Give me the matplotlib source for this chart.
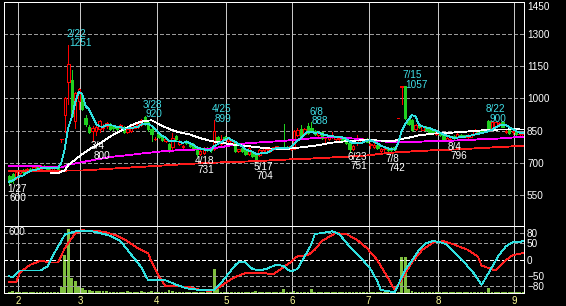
import numpy as np
import pandas as pd
import matplotlib
matplotlib.use('Agg')
import matplotlib.pyplot as plt
from matplotlib.patches import Rectangle

plt.rcParams['font.family'] = ['Liberation Sans', 'DejaVu Sans']
plt.rcParams['lines.scale_dashes'] = False

# Tokyo trading days, 2022-01-27 .. 2022-09-05
holidays = ['2022-02-11', '2022-02-23', '2022-03-21', '2022-04-29', '2022-05-03',
            '2022-05-04', '2022-05-05', '2022-07-18', '2022-08-11']
dates = pd.bdate_range('2022-01-27', '2022-09-05', freq='C', holidays=holidays)

# daily prices (yen)
opens = [640, 648, 630, 650, 668, 660, 672, 668, 678, 672, 684, 678, 664, 674, 682,
         812, 921, 1076, 1088, 895, 987, 1014, 907, 869, 848, 850, 856, 862, 870, 880,
         870, 868, 862, 868, 845, 848, 862, 866, 875, 915, 892, 858, 812, 835, 822,
         800, 786, 775, 826, 786, 775, 800, 790, 785, 768, 742, 745, 770, 765, 763,
         818, 788, 820, 800, 790, 790, 755, 770, 760, 740, 752, 735, 735, 750, 752,
         755, 762, 770, 772, 770, 772, 765, 765, 830, 856, 835, 872, 860, 850, 828,
         842, 815, 812, 820, 812, 810, 815, 808, 790, 765, 790, 808, 800, 812, 785,
         775, 782, 755, 765, 768, 770, 775, 907, 1055, 1057, 905, 900, 858, 875, 855,
         868, 862, 850, 832, 840, 828, 802, 805, 825, 820, 830, 828, 818, 822, 835,
         852, 848, 852, 895, 858, 865, 880, 890, 845, 858, 845, 848, 832, 822]
highs = [645, 652, 660, 668, 672, 675, 676, 682, 684, 688, 690, 682, 678, 684, 686,
         812, 1005, 1251, 1135, 1030, 1050, 1025, 921, 875, 870, 875, 900, 880, 890, 886,
         875, 872, 880, 870, 862, 870, 885, 892, 905, 920, 898, 866, 822, 842, 828,
         818, 790, 840, 830, 805, 785, 805, 795, 790, 772, 758, 772, 775, 770, 899,
         825, 830, 825, 815, 805, 795, 765, 775, 762, 775, 756, 740, 765, 762, 768,
         770, 775, 780, 775, 879, 778, 785, 852, 860, 875, 860, 885, 888, 855, 845,
         845, 818, 825, 845, 822, 820, 818, 812, 792, 785, 830, 812, 815, 815, 790,
         790, 785, 768, 768, 772, 775, 778, 907, 1057, 1057, 908, 905, 880, 878, 878,
         870, 865, 852, 845, 842, 830, 818, 815, 828, 838, 832, 830, 832, 832, 858,
         855, 852, 858, 900, 895, 892, 888, 895, 852, 862, 848, 850, 835, 835]
lows = [600, 606, 625, 645, 650, 655, 662, 665, 670, 670, 676, 662, 660, 670, 664,
        795, 843, 972, 912, 861, 949, 945, 871, 840, 800, 830, 845, 852, 862, 852,
        855, 850, 860, 840, 838, 845, 860, 862, 872, 875, 850, 800, 805, 815, 800,
        796, 752, 755, 805, 782, 770, 788, 775, 765, 731, 738, 742, 755, 748, 758,
        795, 785, 805, 795, 785, 752, 750, 752, 738, 735, 725, 704, 730, 745, 748,
        752, 758, 765, 765, 762, 765, 760, 762, 825, 820, 830, 835, 842, 828, 825,
        812, 788, 808, 815, 808, 805, 800, 786, 751, 760, 785, 795, 798, 795, 770,
        770, 765, 750, 755, 742, 755, 758, 907, 975, 905, 878, 850, 855, 860, 852,
        850, 840, 838, 828, 825, 808, 800, 796, 812, 818, 818, 818, 815, 818, 832,
        840, 838, 842, 850, 855, 862, 878, 865, 840, 835, 832, 830, 825, 820]
closes = [612, 622, 655, 660, 655, 670, 668, 678, 672, 684, 680, 668, 674, 680, 670,
          812, 1003, 1162, 916, 1026, 1045, 949, 879, 844, 864, 866, 895, 872, 885, 856,
          860, 858, 878, 845, 858, 865, 880, 889, 899, 880, 858, 835, 812, 820, 805,
          812, 756, 815, 810, 802, 780, 790, 778, 770, 742, 755, 768, 760, 758, 848,
          800, 812, 810, 812, 800, 756, 762, 755, 742, 770, 730, 712, 760, 758, 765,
          765, 772, 778, 768, 765, 768, 780, 848, 855, 825, 856, 838, 845, 832, 840,
          815, 818, 822, 830, 818, 816, 805, 790, 762, 780, 815, 810, 812, 798, 788,
          785, 768, 762, 765, 758, 760, 762, 907, 1057, 910, 880, 855, 878, 865, 872,
          852, 842, 840, 842, 828, 810, 815, 812, 815, 835, 822, 820, 828, 830, 855,
          842, 840, 845, 855, 892, 888, 885, 868, 850, 838, 848, 832, 835, 832]
# volume (thousand shares)
volumes = [14, 18, 12, 10, 8, 10, 8, 12, 8, 10, 8, 12, 10, 8, 10,
           59, 356, 600, 138, 112, 59, 50, 28, 28, 22, 22, 20, 18, 20, 12,
           14, 10, 14, 12, 16, 10, 8, 12, 18, 14, 10, 20, 8, 10, 8,
           12, 28, 18, 10, 10, 8, 8, 12, 10, 14, 10, 8, 8, 10, 225,
           40, 12, 10, 8, 8, 12, 10, 8, 10, 12, 10, 16, 12, 8, 8,
           10, 8, 8, 12, 40, 10, 8, 20, 14, 12, 10, 12, 35, 12, 8,
           10, 8, 8, 10, 8, 8, 10, 8, 14, 10, 10, 8, 8, 10, 8,
           8, 10, 8, 10, 12, 10, 10, 14, 340, 340, 35, 16, 12, 10, 10,
           8, 8, 10, 8, 8, 10, 8, 10, 8, 10, 8, 8, 10, 8, 12,
           8, 8, 10, 47, 14, 10, 8, 10, 8, 10, 8, 10, 8, 8]

# longer moving averages (day index, value)
ma25_day = [12, 14, 16, 17, 19, 21, 23, 25, 27, 29, 31, 33, 35, 37, 39, 41, 42, 44, 47,
            49, 52, 55, 58, 61, 64, 69, 74, 79, 84, 87, 89, 93, 98, 103, 108, 111, 112,
            115, 118, 122, 127, 132, 136, 141, 146, 148]
ma25_val = [652, 652, 665, 690, 715, 740, 762, 780, 800, 822, 840, 856, 874, 887, 895, 898,
            890, 872, 852, 842, 832, 815, 802, 794, 786, 777, 768, 763, 772, 778, 782, 794,
            802, 806, 803, 803, 808, 817, 828, 836, 840, 846, 851, 855, 856, 855]
ma75_day = [0, 9, 12, 15, 17, 20, 24, 29, 32, 35, 38, 41, 43, 46, 49, 52, 55, 58, 61, 64,
            69, 74, 79, 84, 87, 90, 95, 100, 105, 110, 113, 118, 122, 127, 132, 136, 141,
            145, 148]
ma75_val = [683, 683, 680, 678, 690, 700, 712, 727, 732, 737, 743, 748, 752, 755, 759, 760,
            763, 767, 773, 782, 792, 797, 802, 810, 814, 818, 818, 812, 803, 797, 796, 798,
            802, 803, 806, 810, 813, 818, 822]
ma200_day = [0, 12, 21, 25, 30, 35, 40, 46, 52, 58, 65, 72, 78, 85, 92, 98, 103, 107, 111,
             116, 123, 130, 136, 142, 148]
ma200_val = [662, 663, 664, 668, 673, 678, 683, 689, 695, 700, 704, 708, 714, 718, 724, 729,
             734, 742, 748, 753, 759, 763, 769, 774, 779]

# oscillators (lower panel)
rci_fast_day = [0, 1, 3, 9, 11, 13, 15, 16, 19, 24, 26, 29, 32, 34, 36, 38, 40, 45, 48, 51,
                55, 59, 61, 63, 65, 66, 68, 70, 72, 74, 77, 79, 80, 81, 83, 85, 87, 88, 90,
                93, 95, 98, 101, 104, 106, 107, 111, 112, 114, 116, 118, 120, 122, 124, 126,
                128, 131, 134, 136, 137, 139, 141, 143, 145, 147, 148]
rci_fast_val = [-50, -54, -33, -33, -20, 20, 55, 75, 84, 84, 79, 71, 55, 29, 3, -23, -62,
                -62, -75, -86, -91, -91, -70, -44, -18, -8, -8, -28, -33, -28, -15, -20, -28,
                -36, -28, 8, 45, 76, 79, 84, 76, 39, 8, -28, -65, -91, -98, -75, -33, -2, 29,
                48, 55, 52, 45, 24, -8, -44, -75, -59, -23, 13, 39, 52, 52, 55]
rci_slow_day = [0, 2, 3, 6, 9, 12, 14, 16, 19, 21, 25, 28, 31, 34, 37, 40, 41, 43, 45, 49,
                52, 55, 58, 60, 63, 65, 68, 72, 76, 79, 81, 83, 86, 88, 90, 94, 97, 100, 103,
                106, 109, 111, 113, 116, 119, 122, 125, 128, 132, 135, 136, 140, 143, 145, 148]
rci_slow_val = [-68, -68, -39, -16, -4, -9, -9, 34, 79, 87, 86, 81, 71, 55, 34, 19, -8, -49,
                -80, -80, -83, -91, -94, -86, -65, -52, -41, -39, -44, -23, -8, 10, 13, 29,
                55, 79, 76, 60, 34, -2, -54, -91, -59, -8, 29, 50, 55, 45, 29, 8, -18, -33,
                -2, 13, 19]

# marked highs / lows
high_dates = ['2022-02-22', '2022-03-28', '2022-04-25', '2022-06-08', '2022-07-15', '2022-08-22']
high_vals = [1251, 920, 899, 888, 1057, 900]
low_dates = ['2022-01-27', '2022-03-04', '2022-04-18', '2022-05-17', '2022-06-23',
             '2022-07-08', '2022-08-04']
low_vals = [600, 800, 731, 704, 751, 742, 796]

UP = '#ff0000'
DOWN = '#20d020'
GRID = '#9a9a9a'
VGRID = '#c8c8c8'
LW = 0.72  # one pixel
MLW = 0.6  # indicator lines
FS = 7.2

n = len(closes)
ma5 = pd.Series(closes).rolling(5, min_periods=1).mean()

fig = plt.figure(figsize=(5.66, 3.06), dpi=100, facecolor='black')
ax = fig.add_axes([4 / 566, 80 / 306, 520 / 566, 224 / 306], facecolor='black')
axl = fig.add_axes([4 / 566, 13 / 306, 520 / 566, 67 / 306], facecolor='black')

month_idx = [i for i in range(1, n) if dates[i].month != dates[i - 1].month]
month_pos = [i - 0.5 for i in month_idx]
month_lab = [str(dates[i].month) for i in month_idx]

# grid
for v in [550, 700, 850, 1000, 1150, 1300]:
    ax.axhline(v, color=GRID, lw=LW, dashes=(2.2, 1.5), zorder=1, antialiased=False)
for p in month_pos:
    ax.axvline(p, color=VGRID, lw=LW, zorder=1, antialiased=False)
    axl.axvline(p, color=VGRID, lw=LW, zorder=1, antialiased=False)

# candles
w = 0.7
for i in range(n):
    o, h, l, c = opens[i], highs[i], lows[i], closes[i]
    if c >= o:
        ax.vlines(i, l, h, color=UP, lw=LW, zorder=3, antialiased=False)
        ax.add_patch(Rectangle((i - w / 2, o), w, c - o, facecolor='black',
                               edgecolor=UP, lw=LW, zorder=3, antialiased=False))
    else:
        ax.vlines(i, l, h, color=DOWN, lw=LW, zorder=3, antialiased=False)
        ax.add_patch(Rectangle((i - w / 2, c), w, o - c, facecolor=DOWN,
                               edgecolor=DOWN, lw=LW, zorder=3, antialiased=False))

# moving averages
ax.plot(ma200_day, ma200_val, color='#ff1a1a', lw=MLW, zorder=4, antialiased=False)
ax.plot(ma75_day, ma75_val, color='#ff00ff', lw=MLW, zorder=4, antialiased=False)
ax.plot(ma25_day, ma25_val, color='white', lw=MLW, zorder=4, antialiased=False)
ax.plot(range(n), ma5, color='#30e0e0', lw=MLW, zorder=5, antialiased=False)

# high / low labels
for d, v in zip(high_dates, high_vals):
    t = pd.Timestamp(d)
    i = dates.get_loc(t)
    ax.annotate(f'{t.month}/{t.day}', xy=(i, v), xytext=(-1.7, 5.6), textcoords='offset points',
                ha='left', va='baseline', color='#40e0e8', fontsize=FS, zorder=6)
    ax.annotate(str(v), xy=(i, v), xytext=(0.4, -1.3), textcoords='offset points',
                ha='left', va='baseline', color='#40e0e8', fontsize=FS, zorder=6)
for d, v in zip(low_dates, low_vals):
    t = pd.Timestamp(d)
    i = dates.get_loc(t)
    ax.annotate(f'{t.month}/{t.day}', xy=(i, v), xytext=(-1.7, -5.7), textcoords='offset points',
                ha='left', va='baseline', color='white', fontsize=FS, zorder=6)
    ax.annotate(str(v), xy=(i, v), xytext=(0.4, -12.4), textcoords='offset points',
                ha='left', va='baseline', color='white', fontsize=FS, zorder=6)

ax.set_xlim(-1.53, 148.24)
ax.set_ylim(405, 1450)
ax.set_xticks([])
ax.yaxis.tick_right()
ax.set_yticks([550, 700, 850, 1000, 1150, 1300, 1450])
ax.tick_params(axis='y', length=0, pad=2.2, labelsize=FS, labelcolor='white')
ax.get_yticklabels()[-1].set_verticalalignment('top')

# lower panel: volume + oscillators
axl.bar(range(n), volumes, width=0.8, color='#80c040', zorder=2, antialiased=False)
axl.set_xlim(-1.53, 148.24)
axl.set_ylim(0, 628)
axl.set_yticks([])
axl.set_xticks(month_pos, month_lab)
axl.tick_params(axis='x', length=0, pad=2.0, labelsize=7, labelcolor='#ffff99')
axl.text(0.008, 0.985, '600', transform=axl.transAxes, ha='left', va='top',
         color='white', fontsize=FS)

axo = axl.twinx()
axo.set_ylim(-100, 100)
for v in [80, 50, -50, -80]:
    axo.axhline(v, color=GRID, lw=LW, dashes=(2.2, 1.5), zorder=1, antialiased=False)
axo.axhline(0, color='white', lw=LW, dashes=(2.2, 1.5), zorder=1, antialiased=False)
axo.plot(rci_slow_day, rci_slow_val, color='#ff2020', lw=MLW, zorder=3, antialiased=False)
axo.plot(rci_fast_day, rci_fast_val, color='#30e0e0', lw=MLW, zorder=3, antialiased=False)
axo.set_yticks([80, 50, 0, -50, -80])
axo.tick_params(axis='y', length=0, pad=2.2, labelsize=FS, labelcolor='white')

for a in (ax, axl, axo):
    for s in a.spines.values():
        s.set_color('white')
        s.set_linewidth(LW)

fig.savefig('out.png', dpi=100, facecolor='black')
